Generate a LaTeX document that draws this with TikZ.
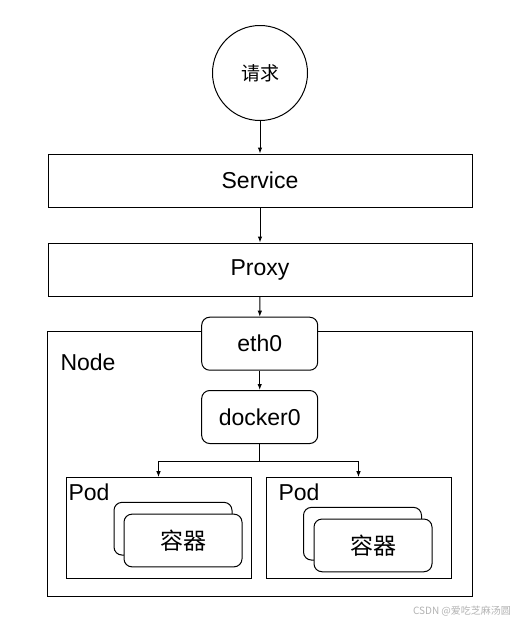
\documentclass[tikz,border=0pt]{standalone}
\usepackage{fontspec}
\setmainfont{Liberation Sans}
\newfontfamily\cjk{Noto Sans CJK SC}
\usetikzlibrary{arrows.meta}

\begin{document}
\begin{tikzpicture}[x=1pt,y=-1pt,line width=1pt,
        box/.style={draw,rectangle,minimum width=424pt,minimum height=53pt,font=\fontsize{23}{27}\selectfont},
        rbox/.style={draw,rectangle,rounded corners=8pt,fill=white,minimum width=116pt,minimum height=53pt,font=\fontsize{23}{27}\selectfont},
        podbox/.style={draw,rectangle,minimum width=185pt,minimum height=100.6pt},
        cbox/.style={draw,rectangle,rounded corners=8pt,fill=white,minimum width=118pt,minimum height=52.7pt,font=\cjk\fontsize{23}{27}\selectfont},
        lbl/.style={font=\fontsize{23}{27}\selectfont},
        arr/.style={-{Latex[length=6pt,width=4.5pt]}}]
    \useasboundingbox (0,0) rectangle (517,625);
    \node[draw,circle,minimum size=95pt,font=\cjk\fontsize{19}{23}\selectfont] (req) at (260,73) {请求};
    \node[box] (svc) at (260,180.5) {Service};
    \node[box] (proxy) at (260,269.5) {Proxy};
    \node[draw,rectangle,minimum width=425pt,minimum height=265pt] (nodebox) at (259.5,463.5) {};
    \node[lbl] (nodelbl) at (88,362) {Node};
    \node[rbox] (eth) at (259.7,343.7) {eth0};
    \node[rbox] (docker) at (259.7,417) {docker0};
    % pods
    \node[podbox] (pod1) at (158.5,528) {};
    \node[podbox] (pod2) at (358.5,528) {};
    \node[lbl] (podlbl1) at (89,492) {Pod};
    \node[lbl] (podlbl2) at (299,492) {Pod};
    \node[cbox] (back1) at (173,528.7) {};
    \node[cbox] (ctr1) at (183,540.5) {容器};
    \node[cbox] (back2) at (362.5,533.7) {};
    \node[cbox] (ctr2) at (373,545.4) {容器};
    \coordinate (split) at (259.7,461.3);
    \draw[arr] (req) -- (svc);
    \draw[arr] (svc) -- (proxy);
    \draw[arr] (proxy) -- (eth);
    \draw[arr] (eth) -- (docker);
    \draw (docker) -- (split);
    \draw[arr] (split) -| (pod1);
    \draw[arr] (split) -| (pod2);
    \node[text=gray!60,font=\cjk\fontsize{10}{12}\selectfont] (mark) at (462,611) {CSDN @爱吃芝麻汤圆};
\end{tikzpicture}
\end{document}
